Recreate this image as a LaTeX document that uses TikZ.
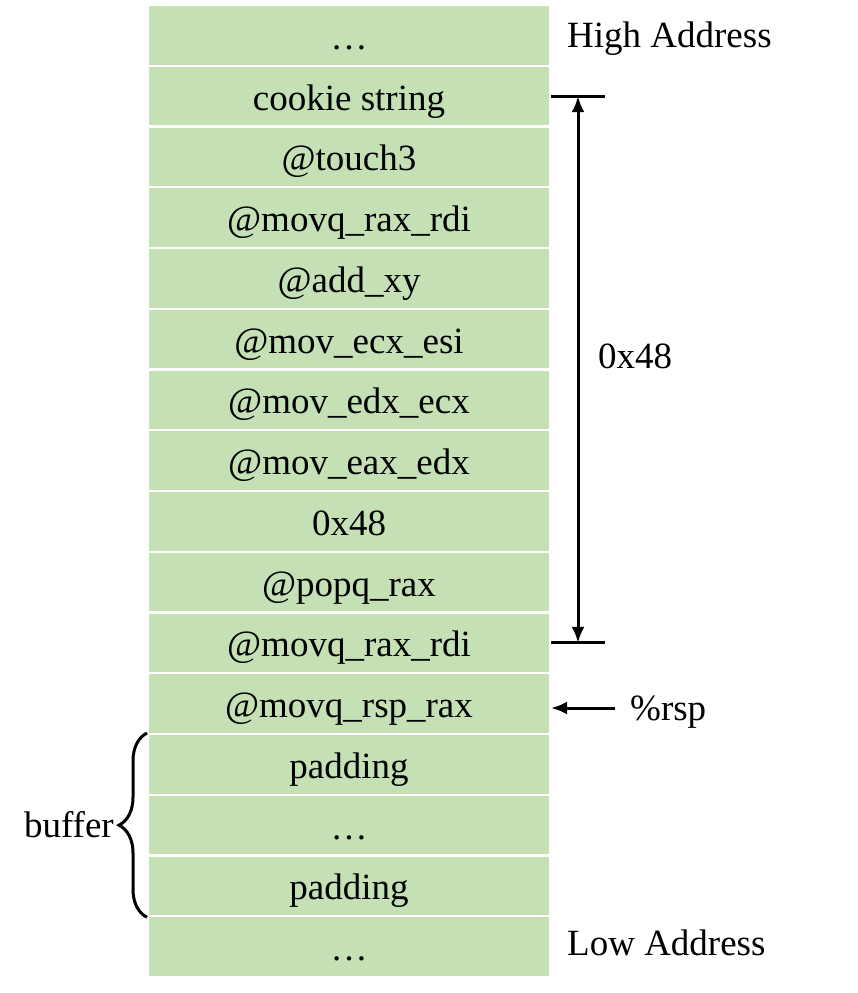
\documentclass[tikz,border=0pt]{standalone}
\usepackage{fontspec}
\setmainfont{Liberation Serif}
\usetikzlibrary{arrows.meta,decorations.pathreplacing}
\definecolor{cellgreen}{RGB}{197,224,180}

\begin{document}
\begin{tikzpicture}[x=1pt,y=-1pt,
  every node/.style={font=\fontsize{37}{44}\selectfont},
  cell/.style={rectangle,fill=cellgreen,draw=white,line width=2pt,
    minimum width=402pt,minimum height=60.75pt,inner sep=0pt,
    text height=34pt,text depth=6pt},
  mark line/.style={line width=3pt},
  >={Latex[length=16pt,width=13pt]}]
  \useasboundingbox (0,0) rectangle (857,993);
  \node[cell] (r1) at (349,35.4) {…};
  \node[cell] (r2) at (349,96.1) {cookie string};
  \node[cell] (r3) at (349,156.9) {@touch3};
  \node[cell] (r4) at (349,217.6) {@movq\_rax\_rdi};
  \node[cell] (r5) at (349,278.4) {@add\_xy};
  \node[cell] (r6) at (349,339.1) {@mov\_ecx\_esi};
  \node[cell] (r7) at (349,399.9) {@mov\_edx\_ecx};
  \node[cell] (r8) at (349,460.6) {@mov\_eax\_edx};
  \node[cell] (r9) at (349,521.4) {0x48};
  \node[cell] (r10) at (349,582.1) {@popq\_rax};
  \node[cell] (r11) at (349,642.9) {@movq\_rax\_rdi};
  \node[cell] (r12) at (349,703.6) {@movq\_rsp\_rax};
  \node[cell] (r13) at (349,764.4) {padding};
  \node[cell] (r14) at (349,825.1) {…};
  \node[cell] (r15) at (349,885.9) {padding};
  \node[cell] (r16) at (349,946.6) {…};

  \node[anchor=base west,inner sep=0pt] (high) at (567,47) {High Address};
  \node[anchor=base west,inner sep=0pt] (low) at (567,955) {Low Address};

  % offset between the two gadgets
  \coordinate (tt) at (605,96.1);
  \coordinate (tb) at (605,642.9);
  \coordinate (at) at (578,96.1);
  \coordinate (ab) at (578,642.9);
  \draw[mark line] (r2.east) -- (tt);
  \draw[mark line] (r11.east) -- (tb);
  \draw[mark line,<->] (at) -- (ab);
  \node[anchor=base west,inner sep=0pt] (off) at (598,368) {0x48};

  % stack pointer
  \node[anchor=base west,inner sep=0pt] (rsp) at (630,720) {\%rsp};
  \coordinate (rspend) at (615,708);
  \draw[mark line,->] (rspend) -- (rspend -| r12.east);

  % buffer
  \draw[mark line,decorate,decoration={brace,amplitude=28pt}]
    (r15.south west) -- (r13.north west);
  \node[anchor=base east,inner sep=0pt] (buf) at (114,837) {buffer};
\end{tikzpicture}
\end{document}
